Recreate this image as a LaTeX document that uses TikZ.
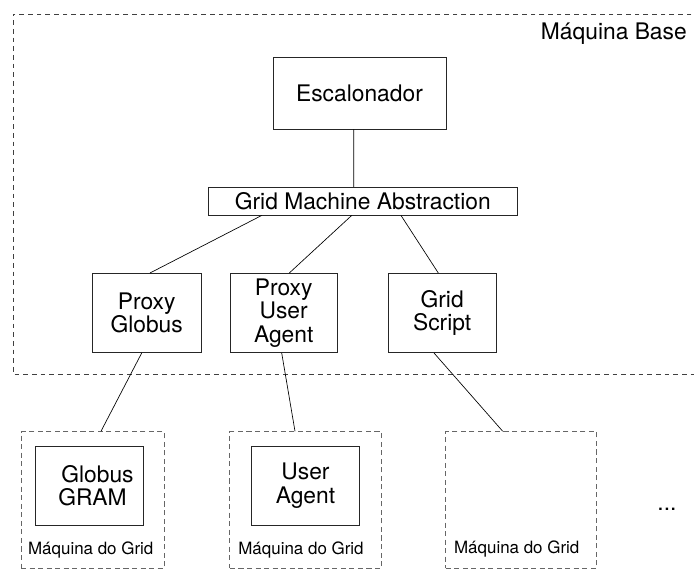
\documentclass[tikz,border=0pt]{standalone}
\usepackage{fontspec}
\setmainfont{TeX Gyre Heros}
\usetikzlibrary{calc}
\tikzset{
  solidbox/.style={draw=black!85, line width=0.6pt, inner sep=0pt, align=center,
    font=\fontsize{17.1}{17.6}\selectfont},
  machbox/.style={draw=black!60, line width=0.75pt, dash pattern=on 3.8pt off 2.6pt, inner sep=0pt},
  conn/.style={draw=black, line width=0.5pt},
  smalllbl/.style={inner sep=0pt, anchor=base, font=\fontsize{12.7}{14}\selectfont},
  biglbl/.style={inner sep=0pt, font=\fontsize{17.1}{17.6}\selectfont}
}
\begin{document}
\begin{tikzpicture}[x=0.75pt,y=-0.75pt]
\useasboundingbox (0,0) rectangle (694,571);
% base machine frame (open on the right, beyond the page)
\draw[draw=black!75, line width=0.75pt, dash pattern=on 3.6pt off 2.9pt]
  (700,14) -- (13,14) -- (13,374) -- (700,374);
\node[biglbl, anchor=base east] (basel) at (687,40) {Máquina Base};

% boxes
\node[solidbox, minimum width=173*0.75pt, minimum height=72*0.75pt] (esc) at (359.5,93) {Escalonador};
\node[solidbox, minimum width=309*0.75pt, minimum height=27.7*0.75pt] (gma) at (362.8,201.2) {Grid Machine Abstraction};
\node[solidbox, minimum width=108.7*0.75pt, minimum height=79.2*0.75pt] (pg) at (146.7,313) {Proxy\\Globus};
\node[solidbox, minimum width=107.3*0.75pt, minimum height=79.2*0.75pt] (pua) at (283.7,313) {Proxy\\User\\Agent};
\node[solidbox, minimum width=107.7*0.75pt, minimum height=79.2*0.75pt] (gs) at (442.2,313) {Grid\\Script};

% grid machines
\node[machbox, minimum width=143.3*0.75pt, minimum height=136.3*0.75pt] (m1) at (92.7,499.9) {};
\node[machbox, minimum width=151.7*0.75pt, minimum height=136.3*0.75pt] (m2) at (305.8,499.9) {};
\node[machbox, minimum width=151*0.75pt, minimum height=136.3*0.75pt] (m3) at (521.2,499.9) {};
\node[solidbox, minimum width=107.6*0.75pt, minimum height=78.3*0.75pt] (gram) at (89.5,485.9) {\hspace*{12pt}Globus\\\hspace*{4.5pt}GRAM};
\node[solidbox, minimum width=107.6*0.75pt, minimum height=78.3*0.75pt] (ua) at (305.5,485.9) {User\\Agent};
\node[smalllbl] (l1) at (90.7,554.3) {Máquina do Grid};
\node[smalllbl] (l2) at (301,554.3) {Máquina do Grid};
\node[smalllbl] (l3) at (516.7,553.5) {Máquina do Grid};
\node[biglbl, anchor=base] (dots) at (667,510) {...};

% connectors
\draw[conn] ($(esc.south)+(-5.8,0)$) -- ($(gma.north)+(-9.1,0)$);
\draw[conn] ($(gma.south)+(-101.1,0)$) -- ($(pg.north)+(3.3,0)$);
\draw[conn] ($(gma.south)+(-11.1,0)$) -- ($(pua.north)+(5.6,0)$);
\draw[conn] ($(gma.south)+(38.2,0)$) -- ($(gs.north)+(-3.9,0)$);
\draw[conn] ($(pg.south)+(-5,0)$) -- ($(m1.north)+(8.3,0)$);
\draw[conn] ($(pua.south)+(-2,0)$) -- ($(m2.north)+(-10.8,0)$);
\draw[conn] ($(gs.south)+(-8.2,0)$) -- ($(m3.north)+(-18.5,0)$);
\end{tikzpicture}
\end{document}
